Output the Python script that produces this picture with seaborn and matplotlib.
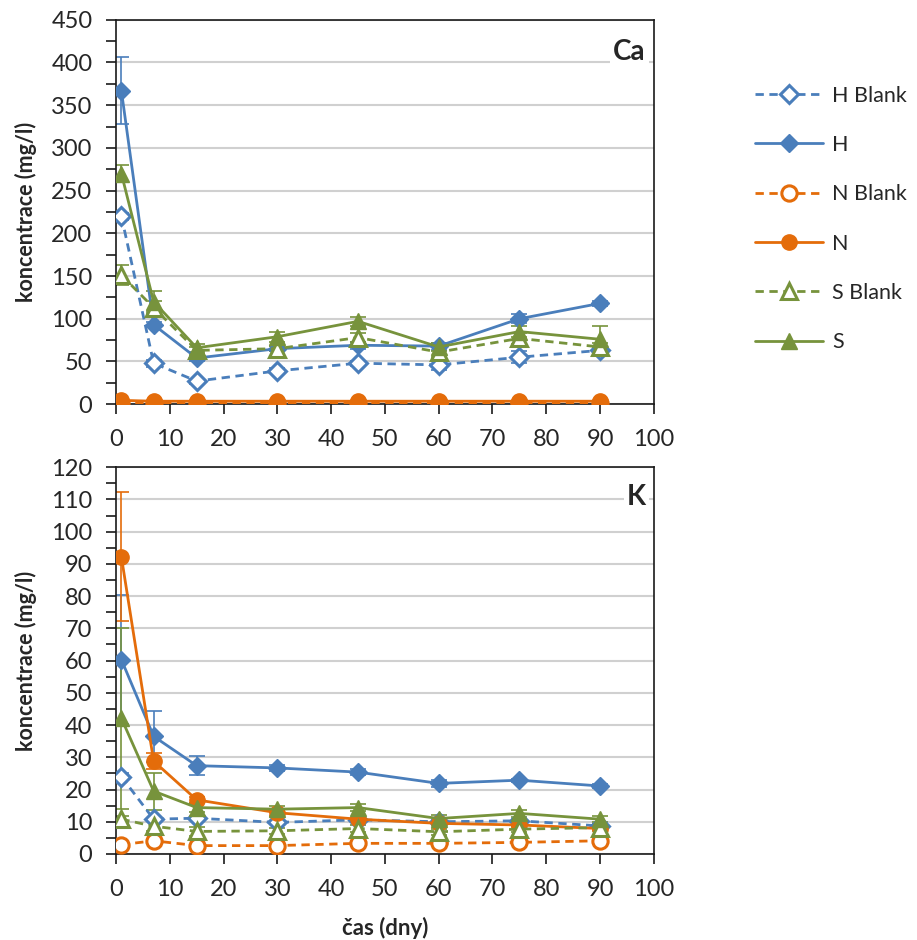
import numpy as np
import pandas as pd
import matplotlib
matplotlib.use("Agg")
import matplotlib.pyplot as plt
from matplotlib.ticker import MultipleLocator
import seaborn as sns

days = [1, 7, 15, 30, 45, 60, 75, 90]
series_names = ["H Blank", "H", "N Blank", "N", "S Blank", "S"]

# Ca (mg/l)
ca_h_blank = [220, 48, 27, 39, 48, 46, 55, 63]
ca_h = [367, 93, 54, 65, 69, 68, 100, 118]
ca_n_blank = [1.5, 1.2, 1.0, 1.0, 1.0, 1.2, 1.0, 1.0]
ca_n = [4.5, 3.5, 3.5, 3.5, 3.5, 3.5, 3.5, 3.5]
ca_s_blank = [151, 113, 63, 65, 78, 61, 77, 67]
ca_s = [270, 120, 66, 79, 97, 67, 85, 76]

ca_h_blank_err = [4, 4, 3, 3, 3, 6, 7, 4]
ca_h_err = [39, 3, 3, 3, 4, 4, 5, 3]
ca_n_blank_err = [0, 0, 0, 0, 0, 0, 0, 0]
ca_n_err = [0.5, 0.5, 0.5, 0.5, 0.5, 0.5, 0.5, 0.5]
ca_s_blank_err = [12, 8, 4, 3, 5, 6, 6, 5]
ca_s_err = [10, 12, 5, 6, 5, 5, 6, 15]

# K (mg/l)
k_h_blank = [24, 10.8, 11.1, 9.8, 10.6, 10.0, 10.3, 8.7]
k_h = [60.3, 36.5, 27.4, 26.7, 25.4, 21.9, 22.9, 21.1]
k_n_blank = [2.9, 4.1, 2.6, 2.6, 3.3, 3.3, 3.6, 4.1]
k_n = [92.2, 28.8, 16.8, 12.8, 10.8, 9.5, 9.0, 7.9]
k_s_blank = [10.8, 8.6, 7.0, 7.2, 7.9, 6.9, 7.7, 8.2]
k_s = [42.1, 19.5, 14.4, 13.9, 14.4, 11.0, 12.6, 10.8]

k_h_blank_err = [1, 0.5, 0.5, 0.5, 0.5, 0.5, 0.5, 0.5]
k_h_err = [20, 8, 3, 1, 1, 1, 0.5, 0.5]
k_n_blank_err = [0.5, 0.5, 0.3, 0.3, 0.3, 0.3, 0.3, 0.3]
k_n_err = [20, 2.5, 1, 1, 0.5, 0.5, 0.5, 0.5]
k_s_blank_err = [1, 1.5, 1.5, 1, 1, 1, 1, 1]
k_s_err = [28, 5.7, 1.5, 1, 1, 1, 1, 1]

blue = "#4A7EBB"
orange = "#E46C0A"
green = "#77933C"

styles = {
    "H Blank": dict(color=blue, marker="D", dashed=True, hollow=True, ms=9),
    "H": dict(color=blue, marker="D", dashed=False, hollow=False, ms=9),
    "N Blank": dict(color=orange, marker="o", dashed=True, hollow=True, ms=11),
    "N": dict(color=orange, marker="o", dashed=False, hollow=False, ms=11),
    "S Blank": dict(color=green, marker="^", dashed=True, hollow=True, ms=11),
    "S": dict(color=green, marker="^", dashed=False, hollow=False, ms=11),
}

ca_vals = {"H Blank": ca_h_blank, "H": ca_h, "N Blank": ca_n_blank,
           "N": ca_n, "S Blank": ca_s_blank, "S": ca_s}
ca_errs = {"H Blank": ca_h_blank_err, "H": ca_h_err, "N Blank": ca_n_blank_err,
           "N": ca_n_err, "S Blank": ca_s_blank_err, "S": ca_s_err}
k_vals = {"H Blank": k_h_blank, "H": k_h, "N Blank": k_n_blank,
          "N": k_n, "S Blank": k_s_blank, "S": k_s}
k_errs = {"H Blank": k_h_blank_err, "H": k_h_err, "N Blank": k_n_blank_err,
          "N": k_n_err, "S Blank": k_s_blank_err, "S": k_s_err}

sns.set_style("white")
plt.rcParams["font.family"] = ["Lato", "DejaVu Sans"]

fig = plt.figure(figsize=(9.17, 9.40), dpi=100)
ax1 = fig.add_axes([0.1265, 0.570, 0.5865, 0.409])
ax2 = fig.add_axes([0.1265, 0.0915, 0.5865, 0.4115])

def draw(ax, vals, errs, ymax, ymaj, ymin, label):
    for name in series_names:
        st = styles[name]
        df = pd.DataFrame({"day": days, "val": vals[name]})
        ax.errorbar(days, vals[name], yerr=errs[name], fmt="none",
                    ecolor=st["color"], elinewidth=1.2, capsize=6,
                    capthick=1.2, zorder=2)
        sns.lineplot(data=df, x="day", y="val", ax=ax, color=st["color"],
                     marker=st["marker"], markersize=st["ms"],
                     markerfacecolor="white" if st["hollow"] else st["color"],
                     markeredgecolor=st["color"],
                     markeredgewidth=2.2 if st["hollow"] else 1,
                     linewidth=2.0,
                     linestyle=(0, (3, 2)) if st["dashed"] else "-",
                     label=name, legend=False, zorder=3)
    ax.set_xlim(0, 100)
    ax.set_ylim(0, ymax)
    ax.xaxis.set_major_locator(MultipleLocator(10))
    ax.yaxis.set_major_locator(MultipleLocator(ymaj))
    ax.yaxis.set_minor_locator(MultipleLocator(ymin))
    ax.grid(axis="y", which="major", color="#D0D0D0", linewidth=1.5, zorder=0)
    ax.grid(axis="x", visible=False)
    ax.set_axisbelow(True)
    for sp in ax.spines.values():
        sp.set_color("#1a1a1a")
        sp.set_linewidth(1.2)
        sp.set_visible(True)
    ax.tick_params(axis="both", which="major", direction="out", length=7,
                   width=1.2, color="#1a1a1a", labelsize=17,
                   bottom=True, left=True)
    ax.tick_params(axis="y", which="major", pad=10)
    ax.tick_params(axis="x", which="major", pad=11)
    ax.tick_params(axis="y", which="minor", direction="out", length=7,
                   width=1.2, color="#1a1a1a", left=True)
    ax.set_ylabel("koncentrace (mg/l)", fontsize=15.5, fontweight="bold", labelpad=10)
    ax.set_xlabel("")
    ax.text(0.985, 0.917 if label == "Ca" else 0.922, label,
            transform=ax.transAxes, ha="right", va="center",
            fontsize=20, fontweight="bold",
            bbox=dict(facecolor="white", edgecolor="none", pad=2), zorder=5)

draw(ax1, ca_vals, ca_errs, 450, 50, 25, "Ca")
draw(ax2, k_vals, k_errs, 120, 10, 5, "K")
ax2.set_xlabel("čas (dny)", fontsize=16, fontweight="bold", labelpad=12)

handles, labels = ax1.get_legend_handles_labels()
fig.legend(handles, labels, loc="upper left", bbox_to_anchor=(0.814, 0.918),
           frameon=False, fontsize=15.5, handlelength=3.16, handletextpad=0.42,
           labelspacing=1.36, borderaxespad=0)

fig.savefig("out.png", dpi=100)
